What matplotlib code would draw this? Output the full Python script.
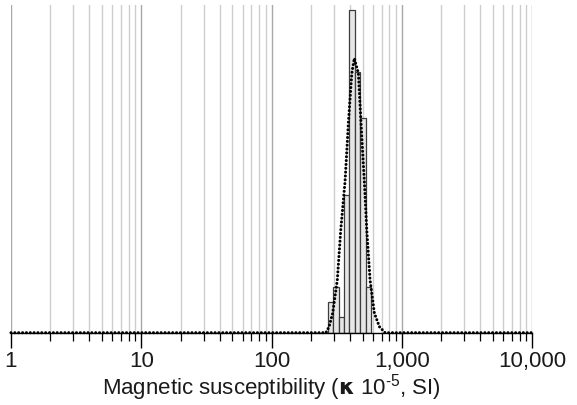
import matplotlib
matplotlib.use("Agg")
import matplotlib.pyplot as plt
from matplotlib.ticker import LogLocator, NullFormatter
import numpy as np

plt.rcParams['font.family'] = ['Liberation Sans', 'DejaVu Sans']
plt.rcParams['mathtext.fontset'] = 'custom'
plt.rcParams['mathtext.rm'] = 'Liberation Sans'
plt.rcParams['mathtext.bf'] = 'DejaVu Sans:bold'
plt.rcParams['axes.unicode_minus'] = False

# histogram bins (magnetic susceptibility, 10^-5 SI) and counts
bin_edges = [269.5, 297.6, 329, 361, 395, 436, 480, 527, 579]
counts = [2, 3, 1, 9, 21, 17, 14, 3]

# fitted distribution curve
curve_x = [1, 261, 275.8, 294, 319, 339, 366, 388, 412, 431,
           463, 485, 515, 537, 569, 614, 671, 742, 10000]
curve_y = [0, 0, 0.39, 1.28, 3.43, 6.69, 9.88, 13.66, 16.9, 17.88,
           16.9, 13.66, 9.75, 6.69, 3.43, 1.28, 0.39, 0, 0]

tick_values = [1, 10, 100, 1000, 10000]
tick_labels = ["1", "10", "100", "1,000", "10,000"]

W, H = 577, 405
fig = plt.figure(figsize=(W / 100, H / 100), dpi=100)
left, right = 11 / W, 532.3 / W
bottom, top = (H - 332.7) / H, (H - 5) / H
ax = fig.add_axes([left, bottom, right - left, top - bottom])

ax.set_xscale('log')
ax.set_xlim(1, 10000)
ax.set_ylim(0, 21.35)

# grid lines
for dec in [1, 10, 100, 1000, 10000]:
    ax.axvline(dec, color='#a8a8a8', lw=1.0, zorder=0)
    if dec < 10000:
        for m in range(2, 10):
            ax.axvline(dec * m, color='#cdcdcd', lw=1.0, zorder=0)

# histogram bars
lefts = np.array(bin_edges[:-1])
widths = np.diff(bin_edges)
ax.bar(lefts, counts, width=widths, align='edge', color='#e6e6e6',
       edgecolor='#3c3c3c', linewidth=0.9, zorder=2)

# dotted fitted curve
ax.plot(curve_x, curve_y, color='black', lw=2.2, linestyle=(0, (0.01, 1.25)),
        dash_capstyle='round', zorder=3, clip_on=False)

for s in ['left', 'right', 'top']:
    ax.spines[s].set_visible(False)
ax.spines['bottom'].set_linewidth(1.0)
ax.spines['bottom'].set_zorder(4)
ax.set_yticks([])

ax.xaxis.set_major_locator(plt.FixedLocator(tick_values))
ax.xaxis.set_major_formatter(plt.FixedFormatter(tick_labels))
ax.xaxis.set_minor_locator(LogLocator(base=10, subs=np.arange(2, 10)))
ax.xaxis.set_minor_formatter(NullFormatter())
ax.tick_params(axis='x', which='major', length=11, width=1.0, direction='out',
               labelsize=16, pad=2.5, colors='black', labelcolor='#1a1a1a')
ax.tick_params(axis='x', which='minor', length=5.5, width=0.9, direction='out')

ax.set_xlabel('Magnetic susceptibility ($\\mathbf{\\kappa}$ 10$^{\\mathregular{\u20105}}$, SI)',
              fontsize=16, color='#1a1a1a', labelpad=0)

fig.savefig('out.png', dpi=100)
